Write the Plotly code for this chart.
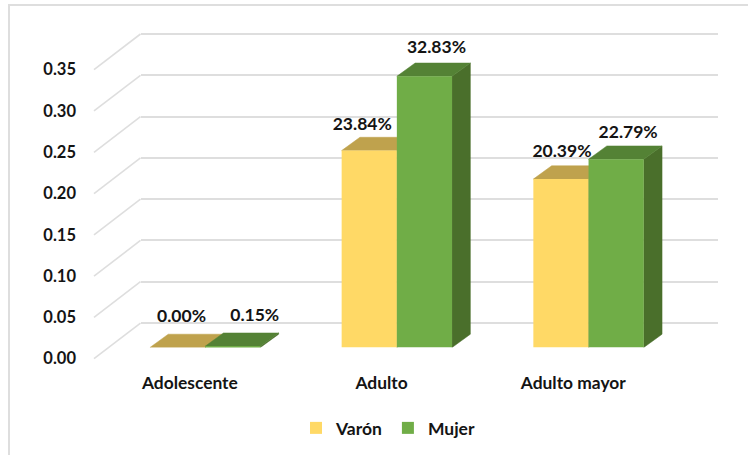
import plotly.graph_objects as go

categories = ["Adolescente", "Adulto", "Adulto mayor"]
varon = [0.0, 0.2384, 0.2039]
mujer = [0.0015, 0.3283, 0.2279]
varon_labels = ["0.00%", "23.84%", "20.39%"]
mujer_labels = ["0.15%", "32.83%", "22.79%"]
y_ticks = [0.0, 0.05, 0.10, 0.15, 0.20, 0.25, 0.30, 0.35]
y_tick_labels = ["0.00", "0.05", "0.10", "0.15", "0.20", "0.25", "0.30", "0.35"]

# label nudges in px (right, up), relative to the back-top edge centre
varon_nudge = [(4, 17), (-7, 12), (1, 13)]
mujer_nudge = [(22, 16), (12, 14), (12, 12)]

W, H = 748, 455
FONT = "Lato"
INK = "#141414"
GRID = "#DEDEDE"
YELLOW, YELLOW_TOP, YELLOW_SIDE = "#FFD966", "#BFA24D", "#A68B3F"
GREEN, GREEN_TOP, GREEN_SIDE = "#70AD47", "#548235", "#4A6F2B"

PX_X = 191.7          # px per category
PX_Y = 826.0          # px per value unit
BAR_W = 55.2 / PX_X
BAR_DX, BAR_DY = 18.3 / PX_X, 13.3 / PX_Y
WALL_DX, WALL_DY = 46.5 / PX_X, 35.7 / PX_Y
PAD_X, PAD_Y = 2 / PX_X, 2 / PX_Y


def xdom(left):
    return [left / W, (left + 3 * PX_X) / W]


def ydom(base, top=0.35):
    return [(H - base) / H, (H - base + top * PX_Y) / H]


positions = list(range(len(categories)))
fig = go.Figure()

# invisible carrier so the back wall subplot and its gridlines are drawn
fig.add_trace(go.Scatter(x=positions, y=[0] * len(positions), mode="markers", marker=dict(opacity=0),
                         xaxis="x", yaxis="y", showlegend=False, hoverinfo="skip"))

# back wall diagonals, running from the front edge to the wall
dx, dy = [], []
for t in y_ticks:
    dx += [-0.5 - WALL_DX, -0.5, None]
    dy += [t - WALL_DY, t, None]
fig.add_trace(go.Scatter(x=dx, y=dy, mode="lines", xaxis="x5", yaxis="y5",
                         line=dict(color=GRID, width=1.6),
                         showlegend=False, hoverinfo="skip"))


def face(xs, ys, color):
    fig.add_trace(go.Scatter(x=xs + xs[:1], y=ys + ys[:1], mode="lines", fill="toself",
                             fillcolor=color, line=dict(color=color, width=0.5),
                             xaxis="x2", yaxis="y2",
                             showlegend=False, hoverinfo="skip"))


for vals, off, top, side in ((varon, -0.5, YELLOW_TOP, YELLOW_SIDE), (mujer, 0.5, GREEN_TOP, GREEN_SIDE)):
    for p, v in zip(positions, vals):
        l = p + (off - 0.5) * BAR_W
        r = l + BAR_W
        face([r, r + BAR_DX, r + BAR_DX, r], [0, BAR_DY, v + BAR_DY, v], side)
        face([l, r, r + BAR_DX, l + BAR_DX], [v, v, v + BAR_DY, v + BAR_DY], top)

for name, vals, color in (("Varón", varon, YELLOW), ("Mujer", mujer, GREEN)):
    fig.add_trace(go.Bar(name=name, x=positions, y=vals, marker=dict(color=color, line=dict(width=0)),
                         xaxis="x3", yaxis="y3", hoverinfo="skip"))

for vals, labels, nudges, off in ((varon, varon_labels, varon_nudge, -0.5), (mujer, mujer_labels, mujer_nudge, 0.5)):
    fig.add_trace(go.Scatter(
        x=[p + off * BAR_W + n[0] / PX_X for p, n in zip(positions, nudges)],
        y=[v + BAR_DY + n[1] / PX_Y for v, n in zip(vals, nudges)],
        text=labels, mode="text", textposition="middle center",
        textfont=dict(family=FONT, size=17.5, color=INK, weight=700),
        xaxis="x3", yaxis="y3", cliponaxis=False, showlegend=False, hoverinfo="skip"))

# invisible carrier for the front-plane axes
fig.add_trace(go.Scatter(x=positions, y=[0] * len(positions), mode="markers", marker=dict(opacity=0),
                         xaxis="x4", yaxis="y4", showlegend=False, hoverinfo="skip"))

hidden = dict(visible=False, showgrid=False, zeroline=False, automargin=False)
xr, yr = [-0.5, 2.5], [0, 0.35]
bar_top = 0.40
fig.update_layout(
    template="none",
    width=W, height=H, margin=dict(l=0, r=0, t=0, b=0),
    paper_bgcolor="white", plot_bgcolor="rgba(0,0,0,0)",
    barmode="group", bargap=1 - 2 * BAR_W, bargroupgap=0,
    font=dict(family=FONT, color=INK),
    xaxis=dict(hidden, domain=[140.5 / W, 718 / W], range=xr),
    # the wall range runs a few px past the first and last tick so both gridlines are kept
    yaxis=dict(domain=[(H - 323 - 3) / H, (H - 34 + 3) / H], range=[-3 / PX_Y, 0.35 + 3 / PX_Y],
               tickvals=y_ticks, showgrid=True, gridcolor=GRID, gridwidth=2,
               zeroline=False, showline=False, showticklabels=False, ticks="", automargin=False),
    xaxis2=dict(hidden, domain=xdom(109.3), range=xr, anchor="y2"),
    yaxis2=dict(hidden, domain=ydom(347.5, bar_top), range=[0, bar_top], anchor="x2"),
    xaxis3=dict(hidden, domain=xdom(109.3), range=xr, anchor="y3"),
    yaxis3=dict(hidden, domain=ydom(347.5, bar_top), range=[0, bar_top], anchor="x3"),
    xaxis4=dict(domain=xdom(94), range=xr, anchor="y4", tickvals=positions, ticktext=categories,
                showgrid=False, zeroline=False, showline=False, ticks="", ticklabelstandoff=12, automargin=False,
                tickfont=dict(family=FONT, size=17.4, color=INK, weight=700)),
    yaxis4=dict(domain=ydom(358.7), range=yr, anchor="x4", tickvals=y_ticks, ticktext=y_tick_labels,
                showgrid=False, zeroline=False, showline=False, ticks="", ticklabelstandoff=17, automargin=False,
                tickfont=dict(family=FONT, size=16.5, color=INK, weight=700)),
    xaxis5=dict(hidden, domain=[(94 - 2) / W, (140.5 + 2) / W], anchor="y5",
                range=[-0.5 - WALL_DX - PAD_X, -0.5 + PAD_X]),
    yaxis5=dict(hidden, domain=[(H - 358.7 - 2) / H, (H - 34 + 2) / H], anchor="x5",
                range=[-WALL_DY - PAD_Y, 0.35 + PAD_Y]),
    legend=dict(orientation="h", x=296 / W, xanchor="left", y=(H - 428) / H, yanchor="middle",
                font=dict(family=FONT, size=17.5, color=INK, weight=700), bgcolor="rgba(0,0,0,0)"),
    shapes=[dict(type="path", xref="paper", yref="paper",
                 path=f"M {9 / W},0 L {9 / W},{(H - 5) / H} L 1,{(H - 5) / H}",
                 line=dict(color=GRID, width=2), layer="below")],
)

fig.write_html("out.html", config=dict(displayModeBar=False),
               post_script="document.body.style.margin='0';")
